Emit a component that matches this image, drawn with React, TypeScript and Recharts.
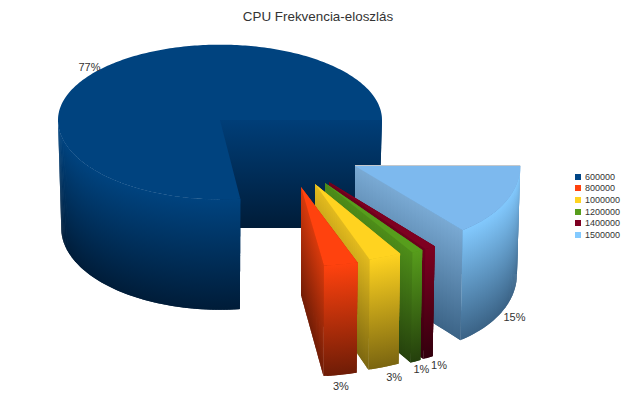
import { Legend, Pie, PieChart } from "recharts"

// values, legend order
const categories = ["600000", "800000", "1000000", "1200000", "1400000", "1500000"]
const shares = [77, 3, 3, 1, 1, 15]
const colors = ["#00437f", "#ff420e", "#ffd320", "#579d1c", "#7e0021", "#7db9ee"]
const swatches = ["#004586", "#ff420e", "#ffd320", "#579d1c", "#7e0021", "#83caff"]
const rimTops = ["#00437f", "#ff420e", "#ffd320", "#579d1c", "#7e0021", "#83caff"]
const sideTops = ["#003e78", "#d93a0c", "#e3bb1e", "#4e8e19", "#6e001c", "#7aaad4"]
const wallEnds = ["#001c38", "#6e1c06", "#7a6510", "#243f0c", "#33000d", "#3a6285"]
const title = "CPU Frekvencia-eloszlás"

// the slices are painted back to front, so the pie is walked in this order
const drawOrder = [0, 5, 4, 3, 2, 1]
const rows = drawOrder.map((i) => ({
  name: categories[i],
  value: shares[i],
  fill: colors[i],
  rimTop: rimTops[i],
  sideTop: sideTops[i],
  wall: wallEnds[i],
}))

// how each slice is pulled out of the pie, and where its label sits
const explode: Record<string, any> = {
  "600000": { dx: 0, dy: 0, sc: 1, lean: 0, lx: -9, ly: -3 },
  "800000": { dx: 81, dy: 67, sc: 1.13, lean: 0, lx: 0, ly: 14 },
  "1000000": { dx: 95, dy: 64, sc: 1.09, lean: 0, lx: 9, ly: 12 },
  "1200000": { dx: 105, dy: 63, sc: 1.12, lean: 0, lx: 4, ly: 10 },
  "1400000": { dx: 109, dy: 62, sc: 1.11, lean: 0, lx: 9, ly: 9 },
  "1500000": { dx: 135, dy: 46, sc: 1.02, lean: 16, lx: 9, ly: 7 },
}

const SQUASH_FRONT = 0.49
const SQUASH_BACK = 0.465
const DEPTH = 108
const FONT = "'Liberation Sans', Arial, sans-serif"

const rad = (a: number) => (a * Math.PI) / 180

function rimPoint(cx: number, cy: number, r: number, angle: number, ex: any) {
  const s = Math.sin(rad(angle))
  return {
    x: cx + ex.dx + r * ex.sc * Math.cos(rad(angle)) + ex.lean * s * s,
    y: cy + ex.dy - r * (s > 0 ? SQUASH_BACK : SQUASH_FRONT) * s,
  }
}

function Slice3D(props: any) {
  const { cx, cy, outerRadius, startAngle, endAngle, payload, index } = props
  const row = payload.payload ?? payload
  const ex = explode[row.name]
  const apex = { x: cx + ex.dx, y: cy + ex.dy }
  const a1 = Math.min(startAngle, endAngle)
  const a2 = Math.max(startAngle, endAngle)
  // angles may come out negative since the walk is clockwise
  const from = ((a1 % 360) + 360) % 360
  const to = from + (a2 - a1)

  const below = (p: { x: number; y: number }) => ({
    x: apex.x + (p.x - apex.x) * 0.98,
    y: apex.y + DEPTH + (p.y - apex.y) * 1.03,
  })

  const strips = (pts: { x: number; y: number }[], key: string, gradId: string) =>
    pts.slice(0, -1).map((p, i) => {
      const q = pts[Math.min(i + 2, pts.length - 1)]
      const b1 = below(p)
      const b2 = below(q)
      return (
        <polygon
          key={`${key}-${i}`}
          points={`${p.x},${p.y} ${q.x},${q.y} ${b2.x},${b2.y} ${b1.x},${b1.y}`}
          fill={`url(#${gradId})`}
        />
      )
    })

  const radial = (angle: number) => {
    const end = rimPoint(cx, cy, outerRadius, angle, ex)
    const pts = []
    for (let i = 0; i <= 30; i++) {
      pts.push({ x: apex.x + ((end.x - apex.x) * i) / 30, y: apex.y + ((end.y - apex.y) * i) / 30 })
    }
    return pts
  }

  const rim = []
  for (let a = from; a < to; a += 1) rim.push(rimPoint(cx, cy, outerRadius, a, ex))
  const rimEnd = rimPoint(cx, cy, outerRadius, to, ex)
  rim.push(rimEnd)

  // only the front half of the rim faces the viewer
  const front = []
  for (let a = Math.max(from, 180); a < Math.min(to, 360); a += 1) front.push(rimPoint(cx, cy, outerRadius, a, ex))
  front.push(rimPoint(cx, cy, outerRadius, Math.min(to, 360), ex))

  const top = [apex, ...rim].map((p) => `${p.x},${p.y}`).join(" ")

  return (
    <g>
      <defs>
        <linearGradient id={`rim-${index}`} x1="0" y1="0" x2="0" y2="1">
          <stop offset="0%" stopColor={row.rimTop} />
          <stop offset="100%" stopColor={row.wall} />
        </linearGradient>
        <linearGradient id={`side-${index}`} x1="0" y1="0" x2="0" y2="1">
          <stop offset="0%" stopColor={row.sideTop} />
          <stop offset="100%" stopColor={row.wall} />
        </linearGradient>
      </defs>
      {strips(radial(to), "end", `side-${index}`)}
      {strips(radial(from), "start", `side-${index}`)}
      {strips(front, "rim", `rim-${index}`)}
      <polygon points={top} fill={row.fill} />
      {to === 360 && from > 180 && (
        <line x1={apex.x} y1={apex.y - 0.5} x2={rimEnd.x} y2={rimEnd.y - 0.5} stroke="#c4c8cc" strokeWidth={1} />
      )}
    </g>
  )
}

function SliceLabel(props: any) {
  const { cx, cy, outerRadius, midAngle, payload } = props
  const row = payload.payload ?? payload
  const ex = explode[row.name]
  const p = rimPoint(cx, cy, outerRadius, midAngle, ex)
  // labels of the front slices hang under the wall
  const drop = ((midAngle % 360) + 360) % 360 > 180 ? DEPTH : 0
  return (
    <text
      x={p.x + ex.lx}
      y={p.y + drop + ex.ly}
      textAnchor="middle"
      dominantBaseline="central"
      fontFamily={FONT}
      fontSize={11}
      fill="#333333"
    >
      {row.value}%
    </text>
  )
}

function FreqLegend() {
  return (
    <div style={{ fontFamily: FONT, fontSize: 9, color: "#333333" }}>
      {categories.map((c, i) => (
        <div key={c} style={{ display: "flex", alignItems: "center", height: 11.6 }}>
          <span style={{ width: 6, height: 6, marginRight: 4, background: swatches[i] }} />
          {c}
        </div>
      ))}
    </div>
  )
}

export default function App() {
  return (
    <div style={{ position: "absolute", left: 0, top: 0, width: 640, height: 416, background: "#fff" }}>
      <PieChart width={640} height={416} margin={{ top: 0, right: 0, bottom: 0, left: 0 }}>
        <text x={318} y={21} textAnchor="middle" fontFamily={FONT} fontSize={13.4} fill="#333333">
          {title}
        </text>
        <Pie
          data={rows}
          dataKey="value"
          nameKey="name"
          cx={220}
          cy={120}
          outerRadius={162}
          startAngle={277.2}
          endAngle={-82.8}
          stroke="none"
          shape={Slice3D}
          label={SliceLabel}
          labelLine={false}
          isAnimationActive={false}
        />
        <Legend
          content={FreqLegend}
          wrapperStyle={{ position: "absolute", left: 575, top: 171, width: 60, height: 72, bottom: "auto", right: "auto" }}
        />
      </PieChart>
    </div>
  )
}
